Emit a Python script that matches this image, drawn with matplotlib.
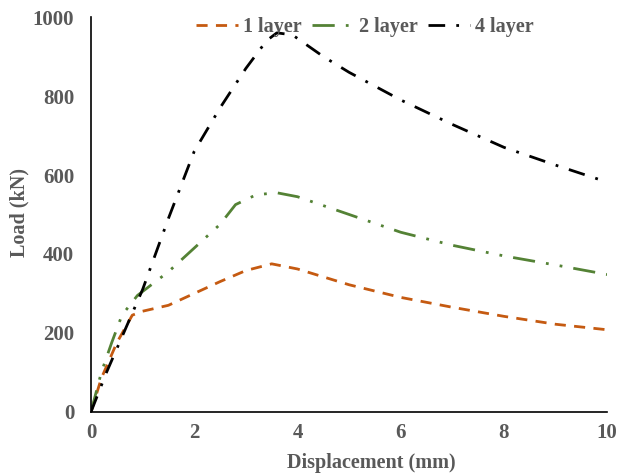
import numpy as np
import matplotlib.pyplot as plt

plt.rcParams['font.family'] = ['Liberation Serif', 'DejaVu Serif']
plt.rcParams['font.weight'] = 'bold'

disp_1 = [0, 0.2, 0.5, 0.8, 1.0, 1.5, 2.0, 2.5, 3.0, 3.5, 4.0, 5.0, 6.0, 7.0, 8.0, 9.0, 10.0]
load_1 = [0, 85, 175, 245, 255, 270, 300, 330, 358, 375, 362, 322, 290, 265, 242, 222, 208]

disp_2 = [0, 0.2, 0.4, 0.6, 0.9, 1.2, 1.5, 2.0, 2.5, 2.8, 3.2, 3.6, 4.0, 5.0, 6.0, 7.0, 8.0, 9.0, 10.0]
load_2 = [0, 100, 175, 245, 295, 325, 355, 415, 475, 525, 550, 555, 545, 500, 455, 422, 395, 372, 348]

disp_4 = [0, 0.3, 0.5, 0.8, 1.0, 1.5, 2.0, 2.5, 3.0, 3.4, 3.6, 3.9, 4.5, 5.0, 6.0, 7.0, 8.0, 9.0, 10.0]
load_4 = [0, 100, 160, 250, 310, 490, 660, 770, 870, 940, 960, 955, 900, 860, 790, 728, 670, 625, 582]

grey = '#595959'

fig = plt.figure(figsize=(6.19, 4.74), dpi=100)
ax = fig.add_axes([0.147, 0.131, 0.834, 0.833])

ax.plot(disp_1, load_1, color='#C55A11', lw=2, dashes=(4, 3), label='1 layer')
ax.plot(disp_2, load_2, color='#548235', lw=2, dashes=(8, 4, 1, 4, 1, 4), label='2 layer')
ax.plot(disp_4, load_4, color='black', lw=2, dashes=(6, 4, 1, 4), label='4 layer')

ax.set_xlim(0, 10)
ax.set_ylim(0, 1000)
ax.set_xticks([0, 2, 4, 6, 8, 10])
ax.set_yticks([0, 200, 400, 600, 800, 1000])
ax.tick_params(length=0, labelsize=15, labelcolor=grey)
ax.tick_params(axis='y', pad=12)
ax.tick_params(axis='x', pad=8)
for s in ['top', 'right']:
    ax.spines[s].set_visible(False)
for s in ['left', 'bottom']:
    ax.spines[s].set_linewidth(1.2)

ax.set_xlabel('Displacement (mm)', fontsize=14.5, color=grey, fontweight='bold')
ax.set_ylabel('Load (kN)', fontsize=14.5, color=grey, fontweight='bold')
ax.xaxis.set_label_coords(0.543, -0.104)
ax.yaxis.set_label_coords(-0.12, 0.504)

leg = ax.legend(loc='upper center', bbox_to_anchor=(0.53, 1.045), ncol=3, frameon=False,
                fontsize=14.5, handlelength=2.1, columnspacing=0.5, handletextpad=0.25)
for t in leg.get_texts():
    t.set_color(grey)

fig.savefig('out.png', dpi=100)
